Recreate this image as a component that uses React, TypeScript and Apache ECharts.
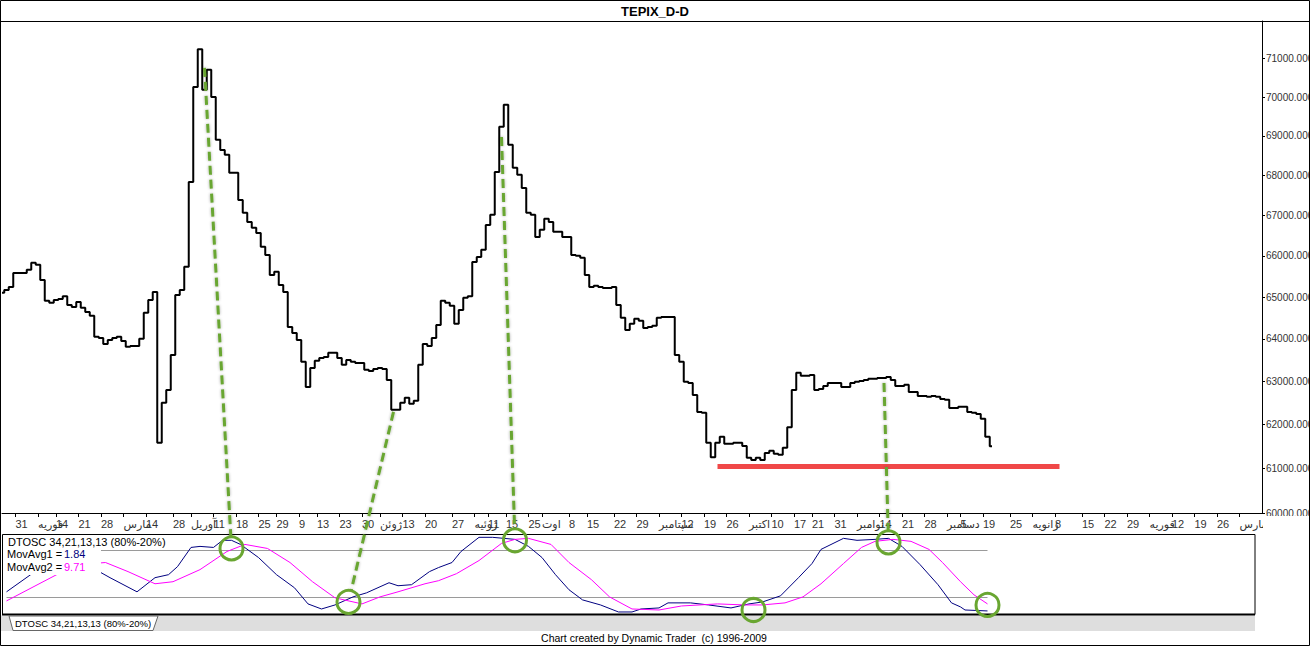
import React, { useEffect, useRef } from 'react';
import * as echarts from 'echarts';

// ---------- data ----------
const N_DAYS = 281; // trading-day slots on the time axis (data + projected future)

const tickIdx = [3, 8, 12, 17, 22, 27, 32, 38, 42, 47, 52, 57, 61, 66, 70, 75, 80, 84, 89, 94, 100, 105, 108, 112, 117, 120, 126, 130, 136, 141, 146, 151, 156, 161, 166, 171, 176, 180, 185, 190, 195, 200, 205, 210, 213, 218, 224, 229, 234, 240, 245, 250, 255, 260, 265, 270, 275];
const tickText = ["31", "فوریه", "14", "21", "28", "مارس", "14", "28", "آوریل", "11", "18", "25", "29", "9", "13", "23", "30", "ژوئن", "13", "20", "27", "ژوئیه", "11", "15", "25", "اوت", "8", "15", "22", "29", "سپتامبر", "12", "19", "26", "اکتبر", "10", "17", "21", "31", "نوامبر", "14", "21", "28", "دسامبر", "5", "19", "25", "ژانویه", "8", "15", "22", "29", "فوریه", "12", "19", "26", "مارس"];

const priceTicks = [60000, 61000, 62000, 63000, 64000, 65000, 66000, 67000, 68000, 69000, 70000, 71000];

const price = [
  65100, 65170, 65240, 65580, 65580, 65580, 65660, 65830, 65780, 65410,
  64910, 64860, 64930, 64950, 65020, 64810, 64760, 64880, 64740, 64640,
  64550, 64050, 64020, 63880, 63970, 64020, 64050, 63950, 63810, 63830,
  63830, 64000, 64620, 64930, 65120, 61580, 62500, 62800, 63620, 65050,
  65170, 65730, 67830, 70260, 71250, 70190, 70710, 70000, 68900, 68640,
  68520, 68060, 68060, 67380, 67060, 66830, 66690, 66560, 66220, 66020,
  65530, 65610, 65290, 65120, 64280, 64140, 63970, 63460, 62870, 63310,
  63480, 63550, 63570, 63670, 63670, 63550, 63390, 63500, 63460, 63430,
  63430, 63270, 63240, 63290, 63310, 63290, 63030, 62340, 62340, 62500,
  62620, 62480, 62550, 63390, 63880, 63830, 64020, 64330, 64910, 64860,
  64790, 64360, 64690, 64980, 65020, 65850, 65970, 66150, 66760, 67010,
  68080, 69230, 69800, 68770, 68190, 68010, 67680, 67060, 67010, 66460,
  66640, 66910, 66830, 66590, 66590, 66460, 66460, 66020, 66000, 65950,
  65530, 65240, 65270, 65240, 65220, 65220, 65240, 64810, 64500, 64210,
  64360, 64480, 64430, 64260, 64280, 64310, 64500, 64520, 64520, 64520,
  63620, 63460, 62990, 62960, 62680, 62290, 62270, 61580, 61250, 61580,
  61720, 61560, 61560, 61580, 61580, 61510, 61240, 61190, 61240, 61190,
  61350, 61400, 61330, 61310, 61470, 61940, 62800, 63200, 63130, 63130,
  63150, 62800, 62820, 62890, 62960, 62960, 62960, 62870, 62870, 62960,
  62990, 63010, 63030, 63060, 63060, 63080, 63080, 63100, 63030, 62890,
  62890, 62920, 62750, 62750, 62660, 62660, 62640, 62660, 62640, 62590,
  62570, 62380, 62380, 62410, 62410, 62290, 62270, 62240, 62130, 61720,
  61501.5,
];

// DTOSC oscillator: [day index, value]
const movAvg1 = [[1, 26.8], [7, 51.1], [12, 54], [16, 55], [20, 53], [22, 51.1], [24, 44.7], [30, 26.8], [34, 44.7], [37, 48.5], [39, 58.7], [42, 83.0], [44, 84.3], [47, 83.0], [49, 92.0], [51, 92.0], [53, 86.8], [57, 70.2], [61, 48.5], [65, 31.9], [68, 11.5], [71, 5.1], [74, 10.2], [78, 20.4], [81, 25.5], [86, 38.3], [88, 34.5], [91, 35.8], [95, 52.4], [97, 57.5], [100, 63.9], [102, 77.9], [106, 95.8], [109, 95.8], [114, 93.2], [117, 84.3], [120, 70.2], [123, 48.5], [126, 29.4], [129, 16.6], [133, 10.2], [137, 1.3], [140, 1.3], [142, 5.1], [146, 6.4], [148, 12.8], [153, 12.8], [157, 10.2], [162, 6.4], [166, 11.5], [169, 14.0], [173, 21.7], [177, 44.7], [180, 62.6], [182, 80.5], [187, 94.5], [190, 92.0], [194, 93.2], [197, 94.5], [200, 84.3], [204, 61.3], [208, 35.8], [211, 12.8], [213, 7.7], [214, 3.8], [219, 2.6]];
const movAvg2 = [[1, 15.3], [13, 51.1], [17, 58], [21, 63], [23, 63.9], [28, 52.4], [34, 37.0], [38, 39.6], [44, 54.9], [50, 77.9], [54, 86.8], [59, 81.7], [64, 63.9], [69, 39.6], [74, 19.2], [80, 11.5], [84, 20.4], [88, 26.8], [94, 37.0], [97, 40.9], [101, 49.8], [106, 66.4], [111, 88.1], [114, 93.2], [117, 94.5], [122, 86.8], [126, 63.9], [131, 42.1], [135, 20.4], [140, 5.1], [146, 3.8], [151, 8.9], [159, 11.5], [165, 10.2], [169, 10.2], [174, 12.8], [178, 20.4], [182, 37.0], [187, 62.6], [191, 83.0], [194, 90.7], [198, 93.2], [202, 90.7], [206, 80.5], [209, 63.9], [213, 39.6], [216, 23.0], [219, 11.5]];

const upperBand = 80;
const lowerBand = 20;
const bandFrom = 1;
const bandTo = 219;

// support line (red)
const supportLevel = 61050;
const supportFrom = 159;
const supportTo = 235;

// annotations: price pivots -> oscillator rings
const pivotIdx = [45, 87, 111, 167, 196];
const pivotPrice = [70760, 62290, 68970, 61050, 62960];
const ringIdx = [51, 77, 114, 167, 197, 219];
const ringVal = [81.7, 14.0, 92.0, 3.8, 89.4, 10.2];

const FONT = '"Liberation Sans", "DejaVu Sans", Arial, sans-serif';
const GREEN = '#69a631';

export default function App() {
  const ref = useRef<HTMLDivElement>(null);

  useEffect(() => {
    if (!ref.current) return;
    const chart = echarts.init(ref.current, null, { renderer: 'svg' });
    const categories = Array.from({ length: N_DAYS }, (_, i) => `d${i}`);
    const tickMap = new Map<number, string>(tickIdx.map((t, k) => [t, tickText[k]]));
    const last = price[price.length - 1];

    chart.setOption({
      animation: false,
      grid: [
        { left: 2, top: 21, width: 1260, height: 492, containLabel: false, outerBoundsMode: 'none' },
        { left: 2, top: 534, width: 1260, height: 79, containLabel: false, outerBoundsMode: 'none' },
      ],
      xAxis: [
        {
          type: 'category', gridIndex: 0, data: categories, boundaryGap: false,
          axisLine: { show: true, lineStyle: { color: '#000', width: 1 } },
          axisTick: { show: true, interval: (i: number) => tickMap.has(i), length: 4, lineStyle: { color: '#000' } },
          axisLabel: {
            show: true, interval: (i: number) => tickMap.has(i),
            formatter: (_v: string, i: number) => tickMap.get(i) ?? '',
            align: 'left', margin: 5, color: '#333', fontSize: 11, fontFamily: FONT, hideOverlap: false,
          },
          splitLine: { show: false },
        },
        { type: 'category', gridIndex: 1, data: categories, boundaryGap: false, show: false },
      ],
      yAxis: [
        {
          type: 'log', gridIndex: 0, position: 'right', min: 60000, max: 72000, logBase: 10,
          axisLine: { show: true, lineStyle: { color: '#000', width: 1 } },
          axisTick: { show: true, customValues: priceTicks, length: 3, lineStyle: { color: '#000' } },
          axisLabel: {
            show: true, customValues: priceTicks, formatter: (v: number) => Number(v).toFixed(3),
            color: '#333', fontSize: 10, fontFamily: FONT, margin: 4, hideOverlap: false,
          },
          splitLine: { show: false },
        },
        { type: 'value', gridIndex: 1, min: 0, max: 100, show: false },
      ],
      series: [
        {
          type: 'line', name: 'TEPIX_D-D', xAxisIndex: 0, yAxisIndex: 0, data: price,
          step: 'middle', symbol: 'none', lineStyle: { color: '#000', width: 2 }, z: 3, silent: true,
          markLine: {
            silent: true, symbol: ['none', 'none'], animation: false,
            label: { show: false },
            lineStyle: { color: '#f04848', width: 5, type: 'solid' },
            data: [
              {
                yAxis: last, lineStyle: { opacity: 0 },
                label: {
                  show: true, position: 'end', formatter: last.toFixed(3), backgroundColor: '#ffff00',
                  color: '#000', fontSize: 10, fontFamily: FONT, padding: [1, 1, 0, 1], distance: 2,
                },
              },
              [{ coord: [supportFrom, supportLevel] }, { coord: [supportTo, supportLevel] }],
            ],
          },
        },
        {
          type: 'line', name: 'MovAvg1', xAxisIndex: 1, yAxisIndex: 1, data: movAvg1,
          symbol: 'none', lineStyle: { color: '#000080', width: 1 }, z: 3, silent: true,
          markLine: {
            silent: true, symbol: ['none', 'none'], label: { show: false }, z: 1,
            lineStyle: { color: '#9a9a9a', width: 1, type: 'solid' },
            data: [
              [{ coord: [bandFrom, upperBand] }, { coord: [bandTo, upperBand] }],
              [{ coord: [bandFrom, lowerBand] }, { coord: [bandTo, lowerBand] }],
            ],
          },
        },
        {
          type: 'line', name: 'MovAvg2', xAxisIndex: 1, yAxisIndex: 1, data: movAvg2,
          symbol: 'none', lineStyle: { color: '#ff00ff', width: 1 }, z: 3, silent: true,
        },
      ],
    });

    const toP = (i: number, v: number) => chart.convertToPixel({ gridIndex: 0 }, [i, v]) as number[];
    const toO = (i: number, v: number) => chart.convertToPixel({ gridIndex: 1 }, [i, v]) as number[];
    const R = 11.5;

    const g: any[] = [];
    // frame + title
    g.push({ type: 'rect', silent: true, z: 50, shape: { x: 0.5, y: 0.5, width: 1309, height: 645 }, style: { fill: 'none', stroke: '#000', lineWidth: 1 } });
    g.push({ type: 'line', silent: true, z: 50, shape: { x1: 0, y1: 21.5, x2: 1310, y2: 21.5 }, style: { stroke: '#000', lineWidth: 1 } });
    g.push({ type: 'text', silent: true, z: 50, x: 655, y: 11, style: { text: 'TEPIX_D-D', font: `bold 13px ${FONT}`, fill: '#000', align: 'center', textAlign: 'center', verticalAlign: 'middle', textVerticalAlign: 'middle' } });
    // cut the lowest y label like the reference
    g.push({ type: 'rect', silent: true, z: 48, shape: { x: 1263, y: 516, width: 47, height: 18 }, style: { fill: '#fff' } });
    // oscillator panel
    g.push({ type: 'rect', silent: true, z: 44, shape: { x: 1, y: 615.5, width: 1254, height: 15.5 }, style: { fill: '#dedede' } });
    g.push({ type: 'rect', silent: true, z: 45, shape: { x: 2.5, y: 534.5, width: 1252.5, height: 80 }, style: { fill: 'none', stroke: '#000', lineWidth: 1 } });
    g.push({ type: 'line', silent: true, z: 45, shape: { x1: 2, y1: 614.5, x2: 1255, y2: 614.5 }, style: { stroke: '#000', lineWidth: 2 } });
    g.push({ type: 'polygon', silent: true, z: 46, shape: { points: [[9, 616], [13, 630.5], [153, 630.5], [158, 616]] }, style: { fill: '#fff', stroke: '#666', lineWidth: 1 } });
    g.push({ type: 'text', silent: true, z: 47, x: 15, y: 623.5, style: { text: 'DTOSC 34,21,13,13 (80%-20%)', font: `9.5px ${FONT}`, fill: '#000', verticalAlign: 'middle', textVerticalAlign: 'middle' } });
    // oscillator legend
    g.push({ type: 'rect', silent: true, z: 40, shape: { x: 2, y: 535, width: 99, height: 40 }, style: { fill: '#fff' } });
    g.push({ type: 'rect', silent: true, z: 40, shape: { x: 2, y: 535, width: 168, height: 13 }, style: { fill: '#fff' } });
    g.push({ type: 'text', silent: true, z: 41, x: 8, y: 541.5, style: { text: 'DTOSC 34,21,13,13 (80%-20%)', font: `11px ${FONT}`, fill: '#000', verticalAlign: 'middle', textVerticalAlign: 'middle' } });
    g.push({ type: 'text', silent: true, z: 41, x: 7, y: 554, style: { text: 'MovAvg1 = ', font: `11px ${FONT}`, fill: '#000', verticalAlign: 'middle', textVerticalAlign: 'middle' } });
    g.push({ type: 'text', silent: true, z: 41, x: 64, y: 554, style: { text: '1.84', font: `11px ${FONT}`, fill: '#000080', verticalAlign: 'middle', textVerticalAlign: 'middle' } });
    g.push({ type: 'text', silent: true, z: 41, x: 7, y: 567, style: { text: 'MovAvg2 = ', font: `11px ${FONT}`, fill: '#000', verticalAlign: 'middle', textVerticalAlign: 'middle' } });
    g.push({ type: 'text', silent: true, z: 41, x: 64, y: 567, style: { text: '9.71', font: `11px ${FONT}`, fill: '#ff00ff', verticalAlign: 'middle', textVerticalAlign: 'middle' } });
    // footer
    g.push({ type: 'text', silent: true, z: 50, x: 654, y: 638, style: { text: 'Chart created by Dynamic Trader  (c) 1996-2009', font: `10.5px ${FONT}`, fill: '#000', align: 'center', textAlign: 'center', verticalAlign: 'middle', textVerticalAlign: 'middle' } });

    // annotations
    const rings = ringIdx.map((i, k) => toO(i, ringVal[k]));
    pivotIdx.forEach((i, k) => {
      const a = toP(i, pivotPrice[k]);
      const c = rings[k];
      const dx = a[0] - c[0];
      const dy = a[1] - c[1];
      const len = Math.sqrt(dx * dx + dy * dy) || 1;
      const b = [c[0] + (dx / len) * R, c[1] + (dy / len) * R];
      g.push({
        type: 'line', silent: true, z: 60,
        shape: { x1: a[0], y1: a[1], x2: b[0], y2: b[1] },
        style: { stroke: GREEN, lineWidth: 3, lineDash: [9, 5], shadowBlur: 3, shadowColor: 'rgba(0,0,0,0.35)' },
      });
    });
    rings.forEach((c) => {
      g.push({
        type: 'circle', silent: true, z: 61,
        shape: { cx: c[0], cy: c[1], r: R },
        style: { fill: 'none', stroke: GREEN, lineWidth: 3 },
      });
    });

    chart.setOption({ graphic: { elements: g } });

    return () => {
      chart.dispose();
    };
  }, []);

  return (
    <div
      ref={ref}
      style={{ position: 'fixed', left: 0, top: 0, width: 1310, height: 646, background: '#fff' }}
    />
  );
}
